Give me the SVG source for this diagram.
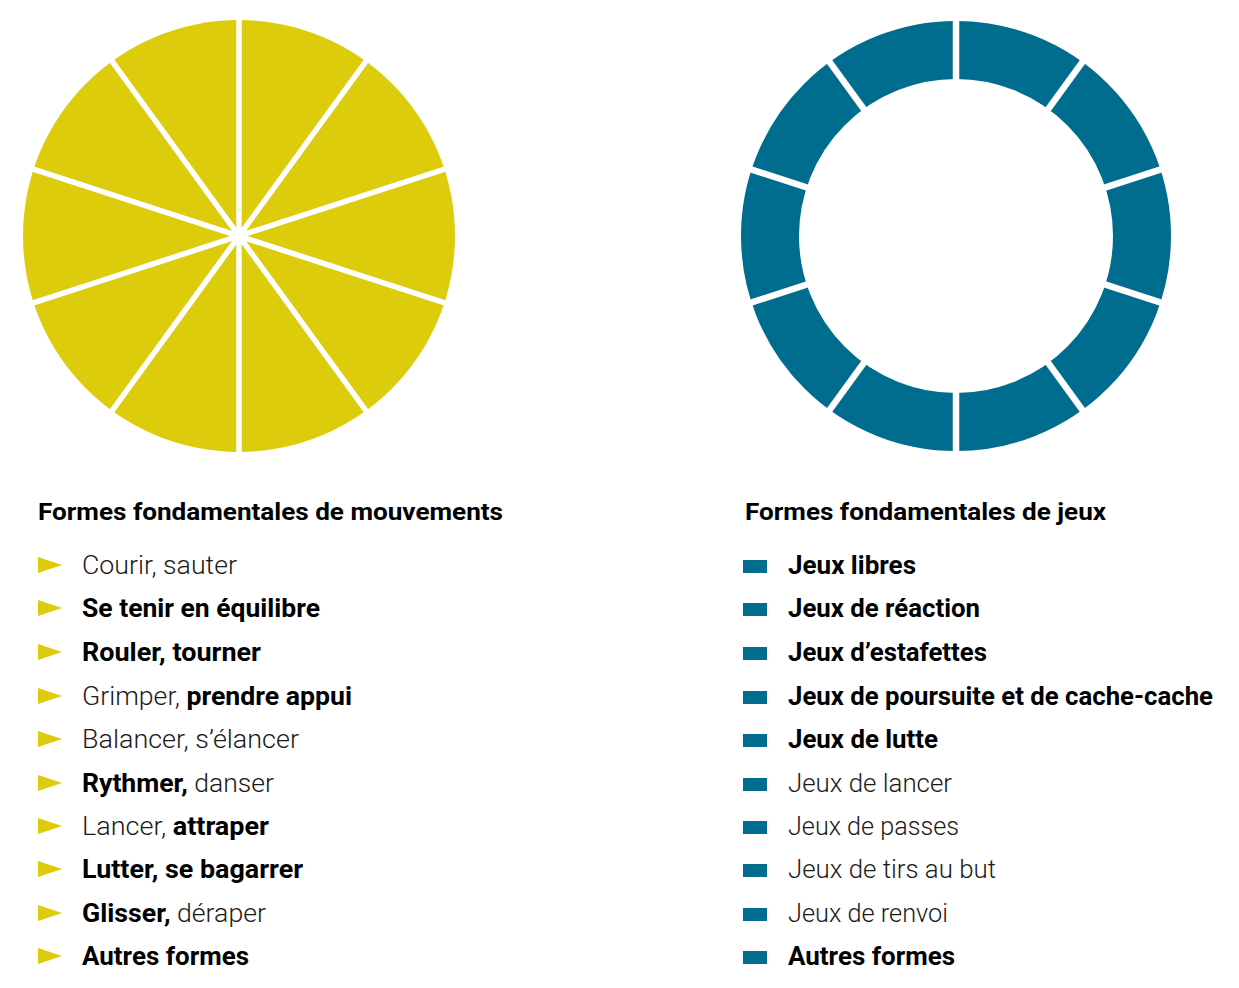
<svg xmlns="http://www.w3.org/2000/svg" width="1239" height="988" viewBox="0 0 1239 988">
<style>
.t{font-family:Roboto,"Liberation Sans",sans-serif;font-size:25px;fill:#1a1a1a;font-weight:300}
.b{font-weight:700;fill:#000}
.h{font-family:Roboto,"Liberation Sans",sans-serif;font-size:24px;font-weight:700;fill:#000}
.sep{stroke:#fff;stroke-width:5.5}
.sep2{stroke:#fff;stroke-width:6.5}
.tri{fill:#DCCC0C}
.sq{fill:#006C8E}
</style>
<rect width="1239" height="988" fill="#fff"/>
<g id="pie-mouvements">
<circle cx="239" cy="236" r="216" fill="#DCCC0C"/>
<g class="sep">
<line x1="239" y1="14" x2="239" y2="458"/>
<line x1="369.5" y1="56.4" x2="108.5" y2="415.6"/>
<line x1="450.1" y1="167.4" x2="27.9" y2="304.6"/>
<line x1="450.1" y1="304.6" x2="27.9" y2="167.4"/>
<line x1="369.5" y1="415.6" x2="108.5" y2="56.4"/>
</g>
</g>
<g id="donut-jeux">
<circle cx="956" cy="236" r="186" fill="none" stroke="#006C8E" stroke-width="58"/>
<g class="sep2">
<line x1="956" y1="14" x2="956" y2="458"/>
<line x1="1086.5" y1="56.4" x2="825.5" y2="415.6"/>
<line x1="1167.1" y1="167.4" x2="744.9" y2="304.6"/>
<line x1="1167.1" y1="304.6" x2="744.9" y2="167.4"/>
<line x1="1086.5" y1="415.6" x2="825.5" y2="56.4"/>
</g>
</g>
<g id="legend-mouvements">
<text class="h" x="38" y="520" textLength="465" lengthAdjust="spacingAndGlyphs">Formes fondamentales de mouvements</text>
<g id="m1"><polygon class="tri" points="38,557 62,565 38,573"/><text class="t" x="82" y="574" textLength="155" lengthAdjust="spacingAndGlyphs">Courir, sauter</text></g>
<g id="m2"><polygon class="tri" points="38,600 62,608 38,616"/><text class="t b" x="82" y="617" textLength="238" lengthAdjust="spacingAndGlyphs">Se tenir en équilibre</text></g>
<g id="m3"><polygon class="tri" points="38,644 62,652 38,660"/><text class="t b" x="82" y="661" textLength="179" lengthAdjust="spacingAndGlyphs">Rouler, tourner</text></g>
<g id="m4"><polygon class="tri" points="38,688 62,696 38,704"/><text class="t" x="82" y="705" textLength="270" lengthAdjust="spacingAndGlyphs">Grimper, <tspan class="b">prendre appui</tspan></text></g>
<g id="m5"><polygon class="tri" points="38,731 62,739 38,747"/><text class="t" x="82" y="748" textLength="217" lengthAdjust="spacingAndGlyphs">Balancer, s’élancer</text></g>
<g id="m6"><polygon class="tri" points="38,775 62,783 38,791"/><text class="t" x="82" y="792" textLength="192" lengthAdjust="spacingAndGlyphs"><tspan class="b">Rythmer,</tspan> danser</text></g>
<g id="m7"><polygon class="tri" points="38,818 62,826 38,834"/><text class="t" x="82" y="835" textLength="187" lengthAdjust="spacingAndGlyphs">Lancer, <tspan class="b">attraper</tspan></text></g>
<g id="m8"><polygon class="tri" points="38,861 62,869 38,877"/><text class="t b" x="82" y="878" textLength="221" lengthAdjust="spacingAndGlyphs">Lutter, se bagarrer</text></g>
<g id="m9"><polygon class="tri" points="38,905 62,913 38,921"/><text class="t" x="82" y="922" textLength="184" lengthAdjust="spacingAndGlyphs"><tspan class="b">Glisser,</tspan> déraper</text></g>
<g id="m10"><polygon class="tri" points="38,948 62,956 38,964"/><text class="t b" x="82" y="965" textLength="167" lengthAdjust="spacingAndGlyphs">Autres formes</text></g>
</g>
<g id="legend-jeux">
<text class="h" x="745" y="520" textLength="361" lengthAdjust="spacingAndGlyphs">Formes fondamentales de jeux</text>
<g id="j1"><rect class="sq" x="743" y="560" width="24" height="13"/><text class="t b" x="788" y="574" textLength="128" lengthAdjust="spacingAndGlyphs">Jeux libres</text></g>
<g id="j2"><rect class="sq" x="743" y="603" width="24" height="13"/><text class="t b" x="788" y="617" textLength="192" lengthAdjust="spacingAndGlyphs">Jeux de réaction</text></g>
<g id="j3"><rect class="sq" x="743" y="647" width="24" height="13"/><text class="t b" x="788" y="661" textLength="199" lengthAdjust="spacingAndGlyphs">Jeux d’estafettes</text></g>
<g id="j4"><rect class="sq" x="743" y="691" width="24" height="13"/><text class="t b" x="788" y="705" textLength="425" lengthAdjust="spacingAndGlyphs">Jeux de poursuite et de cache-cache</text></g>
<g id="j5"><rect class="sq" x="743" y="734" width="24" height="13"/><text class="t b" x="788" y="748" textLength="150" lengthAdjust="spacingAndGlyphs">Jeux de lutte</text></g>
<g id="j6"><rect class="sq" x="743" y="778" width="24" height="13"/><text class="t" x="788" y="792" textLength="164" lengthAdjust="spacingAndGlyphs">Jeux de lancer</text></g>
<g id="j7"><rect class="sq" x="743" y="821" width="24" height="13"/><text class="t" x="788" y="835" textLength="171" lengthAdjust="spacingAndGlyphs">Jeux de passes</text></g>
<g id="j8"><rect class="sq" x="743" y="864" width="24" height="13"/><text class="t" x="788" y="878" textLength="208" lengthAdjust="spacingAndGlyphs">Jeux de tirs au but</text></g>
<g id="j9"><rect class="sq" x="743" y="908" width="24" height="13"/><text class="t" x="788" y="922" textLength="160" lengthAdjust="spacingAndGlyphs">Jeux de renvoi</text></g>
<g id="j10"><rect class="sq" x="743" y="951" width="24" height="13"/><text class="t b" x="788" y="965" textLength="167" lengthAdjust="spacingAndGlyphs">Autres formes</text></g>
</g>
</svg>
